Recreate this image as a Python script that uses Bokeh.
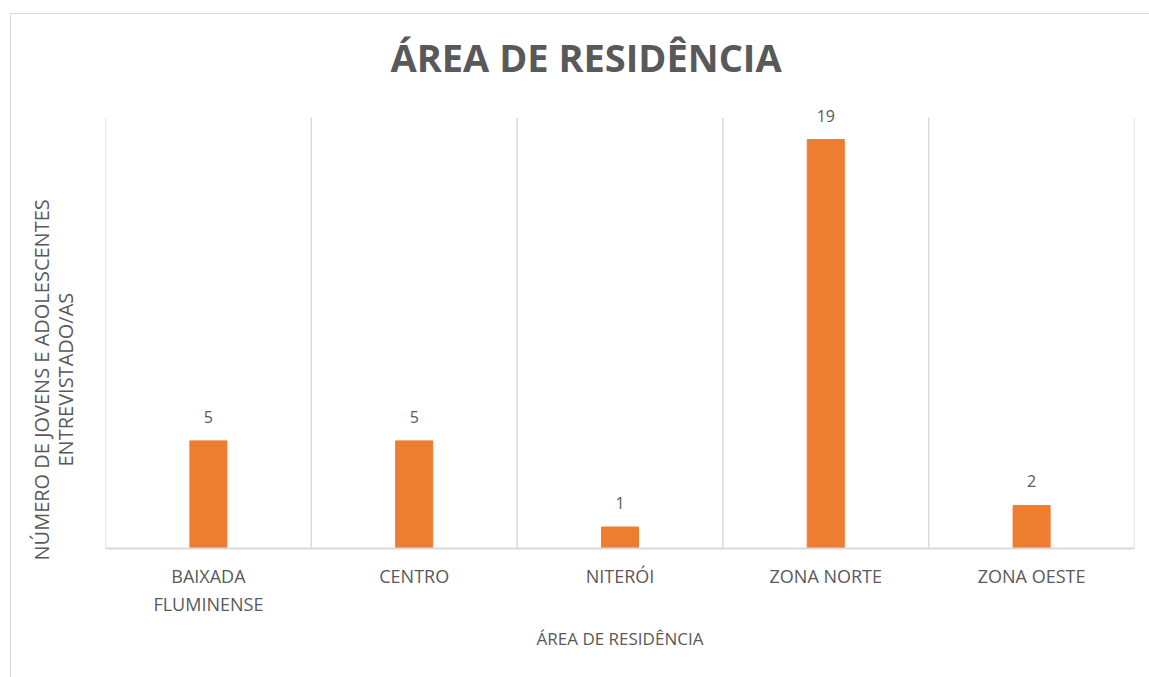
from bokeh.plotting import figure
from bokeh.models import ColumnDataSource, LabelSet, FactorRange, Range1d, Title
from bokeh.embed import file_html
from bokeh.resources import INLINE
from bokeh.core.properties import value

categories = ["BAIXADA\nFLUMINENSE", "CENTRO", "NITERÓI", "ZONA NORTE", "ZONA OESTE"]
counts = [5, 5, 1, 19, 2]
title_text = "ÁREA DE RESIDÊNCIA"
x_label = "ÁREA DE RESIDÊNCIA"
y_label_lines = ["NÚMERO DE JOVENS E ADOLESCENTES", "ENTREVISTADO/AS"]
y_axis_max = 20

FONT = "Open Sans"
GRAY = "#595959"
GRID = "#d9d9d9"
ORANGE = "#ED7D31"

src = ColumnDataSource(dict(cat=categories, count=counts, label=[str(c) for c in counts]))

p = figure(
    width=1149, height=677,
    x_range=FactorRange(*categories, range_padding=0),
    y_range=Range1d(0, y_axis_max + 1),
    output_backend="svg", toolbar_location=None,
    min_border_left=105, min_border_right=15, min_border_top=96, min_border_bottom=129,
)
p.border_fill_alpha = 0
p.background_fill_color = "white"
p.outline_line_color = None
p.styles = {"box-shadow": f"inset 10px 13px 0 0 white, inset 11px 14px 0 0 {GRID}",
            "background": "white"}

# vertical grid lines at the category boundaries, spanning the 0..20 value axis
bounds = list(range(len(categories) + 1))
p.segment(x0=bounds, y0=[0] * len(bounds), x1=bounds, y1=[y_axis_max] * len(bounds),
          line_color=GRID, line_width=1.5)

p.vbar(x="cat", top="count", width=0.18, color=ORANGE, source=src)

p.add_layout(LabelSet(x="cat", y="count", text="label", source=src, y_offset=18,
                      text_align="center", text_baseline="bottom",
                      text_font=value(FONT), text_font_size="16px", text_color=GRAY))

p.xgrid.visible = False
p.ygrid.visible = False
p.yaxis.visible = False

ax = p.xaxis[0]
ax.axis_line_color = GRID
ax.axis_line_width = 2
ax.major_tick_line_color = None
ax.minor_tick_line_color = None
ax.major_label_text_font = FONT
ax.major_label_text_font_size = "18px"
ax.major_label_text_color = GRAY
ax.major_label_standoff = 9
ax.axis_label = x_label
ax.axis_label_text_font = FONT
ax.axis_label_text_font_size = "17px"
ax.axis_label_text_font_style = "normal"
ax.axis_label_text_color = GRAY
ax.axis_label_standoff = 8

p.title.text = title_text
p.title.align = "left"
p.title.offset = 285
p.title.standoff = 28
p.title.text_font = FONT
p.title.text_font_size = "38px"
p.title.text_font_style = "bold"
p.title.text_color = GRAY

# y-axis title: two centred lines (inner line added first)
p.add_layout(Title(text=y_label_lines[1], align="left", offset=82, standoff=53,
                   text_font=FONT, text_font_size="20px", text_font_style="normal",
                   text_color=GRAY), "left")
p.add_layout(Title(text=y_label_lines[0], align="left", offset=-12, standoff=-63,
                   text_font=FONT, text_font_size="20px", text_font_style="normal",
                   text_color=GRAY), "left")

open("out.html", "w").write(file_html(p, INLINE))
